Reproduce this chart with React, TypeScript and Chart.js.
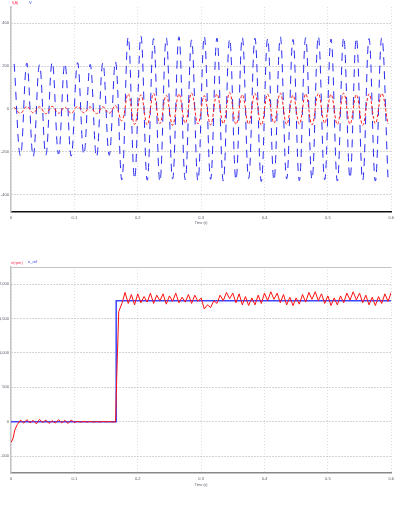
import React, { useEffect, useRef } from "react";
import { Chart, registerables } from "chart.js";

Chart.register(...registerables);

// ---------- shared ----------
const timeTicks = [0, 0.1, 0.2, 0.3, 0.4, 0.5, 0.6];
const xTitle = "Time (s)";

// ---------- top chart: waveform ----------
const topLegend = ["I(A)", "V"];
const topYTicks = [-400, -200, 0, 200, 400];
const waveTimes = [
  0.005, 0.015, 0.025, 0.035, 0.045, 0.055, 0.065, 0.075, 0.085, 0.095,
  0.105, 0.115, 0.125, 0.135, 0.145, 0.155, 0.165, 0.175, 0.185, 0.195,
  0.205, 0.215, 0.225, 0.235, 0.245, 0.255, 0.265, 0.275, 0.285, 0.295,
  0.305, 0.315, 0.325, 0.335, 0.345, 0.355, 0.365, 0.375, 0.385, 0.395,
  0.405, 0.415, 0.425, 0.435, 0.445, 0.455, 0.465, 0.475, 0.485, 0.495,
  0.505, 0.515, 0.525, 0.535, 0.545, 0.555, 0.565, 0.575, 0.585, 0.595,
];
const voltageValues = [
  210, -218, 214, -222, 206, -215, 218, -210, 212, -220,
  216, -212, 208, -224, 215, -216, 220, -330, 335, -325,
  340, -332, 328, -338, 332, -326, 336, -330, 322, -334,
  338, -328, 330, -336, 326, -330, 334, -324, 330, -338,
  328, -332, 336, -326, 324, -334, 332, -328, 338, -330,
  326, -336, 334, -322, 330, -332, 328, -336, 332, -328,
];
const currentValues = [
  8, -20, 12, -18, 10, -22, 12, -20, 8, -20,
  12, -18, 10, -22, 10, -20, 15, -55, 70, -72,
  66, -74, 72, -68, 64, -76, 70, -66, 74, -70,
  62, -74, 70, -68, 76, -72, 66, -70, 72, -76,
  68, -66, 74, -72, 64, -70, 70, -74, 72, -66,
  68, -72, 74, -70, 66, -76, 70, -68, 72, -70,
];

// ---------- bottom chart: speed ----------
const bottomLegend = ["n(rpm)", "n_ref"];
const bottomYTicks = [-500, 0, 500, 1000, 1500, 2000];
const refTimes = [0, 0.166, 0.166, 0.6];
const refValues = [0, 0, 1760, 1760];
const speedTimes = [
  0, 0.003, 0.006, 0.01, 0.015, 0.02, 0.025, 0.03, 0.035, 0.04,
  0.045, 0.05, 0.055, 0.06, 0.065, 0.07, 0.075, 0.08, 0.085, 0.09,
  0.095, 0.1, 0.105, 0.11, 0.115, 0.12, 0.125, 0.13, 0.135, 0.14,
  0.145, 0.15, 0.155, 0.16, 0.165, 0.167, 0.17, 0.175, 0.18, 0.185,
  0.19, 0.195, 0.2, 0.205, 0.21, 0.215, 0.22, 0.225, 0.23, 0.235,
  0.24, 0.245, 0.25, 0.255, 0.26, 0.265, 0.27, 0.275, 0.28, 0.285,
  0.29, 0.295, 0.3, 0.305, 0.31, 0.315, 0.32, 0.325, 0.33, 0.335,
  0.34, 0.345, 0.35, 0.355, 0.36, 0.365, 0.37, 0.375, 0.38, 0.385,
  0.39, 0.395, 0.4, 0.405, 0.41, 0.415, 0.42, 0.425, 0.43, 0.435,
  0.44, 0.445, 0.45, 0.455, 0.46, 0.465, 0.47, 0.475, 0.48, 0.485,
  0.49, 0.495, 0.5, 0.505, 0.51, 0.515, 0.52, 0.525, 0.53, 0.535,
  0.54, 0.545, 0.55, 0.555, 0.56, 0.565, 0.57, 0.575, 0.58, 0.585,
  0.59, 0.595, 0.6,
];
const speedValues = [
  -300, -250, -120, -40, 25, -20, 30, -15, 20, -30,
  35, -10, 25, -25, 15, -20, 30, -15, 20, -25,
  25, -10, 5, -5, 4, -4, 5, -5, 3, -4,
  5, -3, 4, -5, 0, 700, 1600, 1720, 1880, 1720,
  1850, 1700, 1860, 1730, 1820, 1740, 1870, 1720, 1840, 1760,
  1860, 1710, 1830, 1750, 1870, 1730, 1810, 1740, 1850, 1720,
  1840, 1750, 1800, 1640, 1700, 1660, 1760, 1720, 1840, 1760,
  1880, 1790, 1870, 1730, 1860, 1700, 1820, 1690, 1800, 1700,
  1840, 1720, 1870, 1760, 1890, 1780, 1870, 1730, 1850, 1700,
  1810, 1690, 1800, 1710, 1850, 1740, 1880, 1780, 1890, 1760,
  1860, 1720, 1830, 1690, 1800, 1700, 1830, 1730, 1870, 1770,
  1890, 1770, 1870, 1730, 1840, 1700, 1810, 1690, 1820, 1720,
  1860, 1750, 1880,
];

const FONT = "Liberation Sans";
const pts = (xs: number[], ys: number[]) => xs.map((x, i) => ({ x, y: ys[i] }));
const fixedTicks = (values: number[]) => (scale: any) => {
  scale.ticks = values.map((v) => ({ value: v }));
};

const topBorder = {
  id: "topBorder",
  afterDraw(chart: any) {
    if (!chart.options.plugins.topBorder?.show) return;
    const { ctx, chartArea } = chart;
    ctx.save();
    ctx.strokeStyle = "#c4c4c4";
    ctx.lineWidth = 1;
    ctx.beginPath();
    ctx.moveTo(chartArea.left, chartArea.top + 0.5);
    ctx.lineTo(chartArea.right, chartArea.top + 0.5);
    ctx.stroke();
    ctx.restore();
  },
};

function buildOptions(p: {
  yMin: number; yMax: number; yTicks: number[]; padTop: number;
  xAxisHeight: number; xBorder: string; showTop: boolean;
}): any {
  return {
    responsive: false,
    animation: false,
    layout: { padding: { top: p.padTop, right: 2, left: 0, bottom: 0 } },
    plugins: {
      legend: { display: false },
      tooltip: { enabled: false },
      topBorder: { show: p.showTop },
    },
    elements: { point: { radius: 0 } },
    scales: {
      x: {
        type: "linear",
        min: 0,
        max: 0.6,
        afterBuildTicks: fixedTicks(timeTicks),
        afterFit: (s: any) => { s.height = p.xAxisHeight; },
        grid: { color: "#dedede", drawTicks: false },
        border: { color: p.xBorder, width: 1.5, dash: [1, 2] },
        ticks: {
          padding: 3,
          color: "#556",
          font: { family: FONT, size: 4 },
          maxRotation: 0,
          autoSkip: false,
        },
        title: {
          display: true,
          text: xTitle,
          color: "#556",
          font: { family: FONT, size: 3.5 },
          padding: { top: 0, bottom: 0 },
        },
      },
      y: {
        type: "linear",
        min: p.yMin,
        max: p.yMax,
        afterBuildTicks: fixedTicks(p.yTicks),
        afterFit: (s: any) => { s.width = 11; },
        grid: { color: "#a8a8a8", drawTicks: false },
        border: { color: "#c4c4c4", width: 1.5, dash: [1, 2] },
        ticks: {
          padding: 2,
          color: "#556",
          font: { family: FONT, size: 4 },
        },
      },
    },
  };
}

function TopChart() {
  const ref = useRef<HTMLCanvasElement>(null);
  useEffect(() => {
    if (!ref.current) return;
    const chart = new Chart(ref.current, {
      type: "line",
      data: {
        datasets: [
          {
            label: topLegend[0],
            data: pts(waveTimes, currentValues),
            borderColor: "#ff1a1a",
            borderWidth: 1,
            borderDash: [3, 2],
            tension: 0.4,
            order: 0,
          },
          {
            label: topLegend[1],
            data: pts(waveTimes, voltageValues),
            borderColor: "#2a2cf0",
            borderWidth: 1,
            borderDash: [8, 6],
            tension: 0.4,
            order: 1,
          },
        ],
      },
      options: buildOptions({
        yMin: -480, yMax: 475, yTicks: topYTicks, padTop: 7,
        xAxisHeight: 13, xBorder: "#111", showTop: false,
      }),
      plugins: [topBorder],
    } as any);
    return () => chart.destroy();
  }, []);
  return <canvas ref={ref} width={397} height={225} style={{ display: "block" }} />;
}

function BottomChart() {
  const ref = useRef<HTMLCanvasElement>(null);
  useEffect(() => {
    if (!ref.current) return;
    const chart = new Chart(ref.current, {
      type: "line",
      data: {
        datasets: [
          {
            label: bottomLegend[0],
            data: pts(speedTimes, speedValues),
            borderColor: "#ff1111",
            borderWidth: 1,
            tension: 0,
            order: 0,
          },
          {
            label: bottomLegend[1],
            data: pts(refTimes, refValues),
            borderColor: "#3a46ff",
            borderWidth: 1.5,
            tension: 0,
            order: 1,
          },
        ],
      },
      options: buildOptions({
        yMin: -745, yMax: 2250, yTicks: bottomYTicks, padTop: 17,
        xAxisHeight: 14, xBorder: "#888", showTop: true,
      }),
      plugins: [topBorder],
    } as any);
    return () => chart.destroy();
  }, []);
  return <canvas ref={ref} width={397} height={237} style={{ display: "block" }} />;
}

const legendStyle = (color: string, left: number, top: number): React.CSSProperties => ({
  position: "absolute",
  left,
  top,
  color,
  fontFamily: FONT,
  fontSize: 4,
  lineHeight: "5px",
  whiteSpace: "nowrap",
});

export default function App() {
  return (
    <div style={{ position: "fixed", left: 0, top: 0, width: 397, height: 512, background: "#fff" }}>
      <div style={{ position: "absolute", left: 0, top: 0 }}>
        <TopChart />
      </div>
      <span style={legendStyle("#ff3355", 12, 0)}>{topLegend[0]}</span>
      <span style={legendStyle("#3344ee", 29, 0)}>{topLegend[1]}</span>
      <div style={{ position: "absolute", left: 0, top: 250 }}>
        <BottomChart />
      </div>
      <span style={legendStyle("#ff3355", 11, 260)}>{bottomLegend[0]}</span>
      <span style={legendStyle("#3344ee", 28, 259)}>{bottomLegend[1]}</span>
    </div>
  );
}
